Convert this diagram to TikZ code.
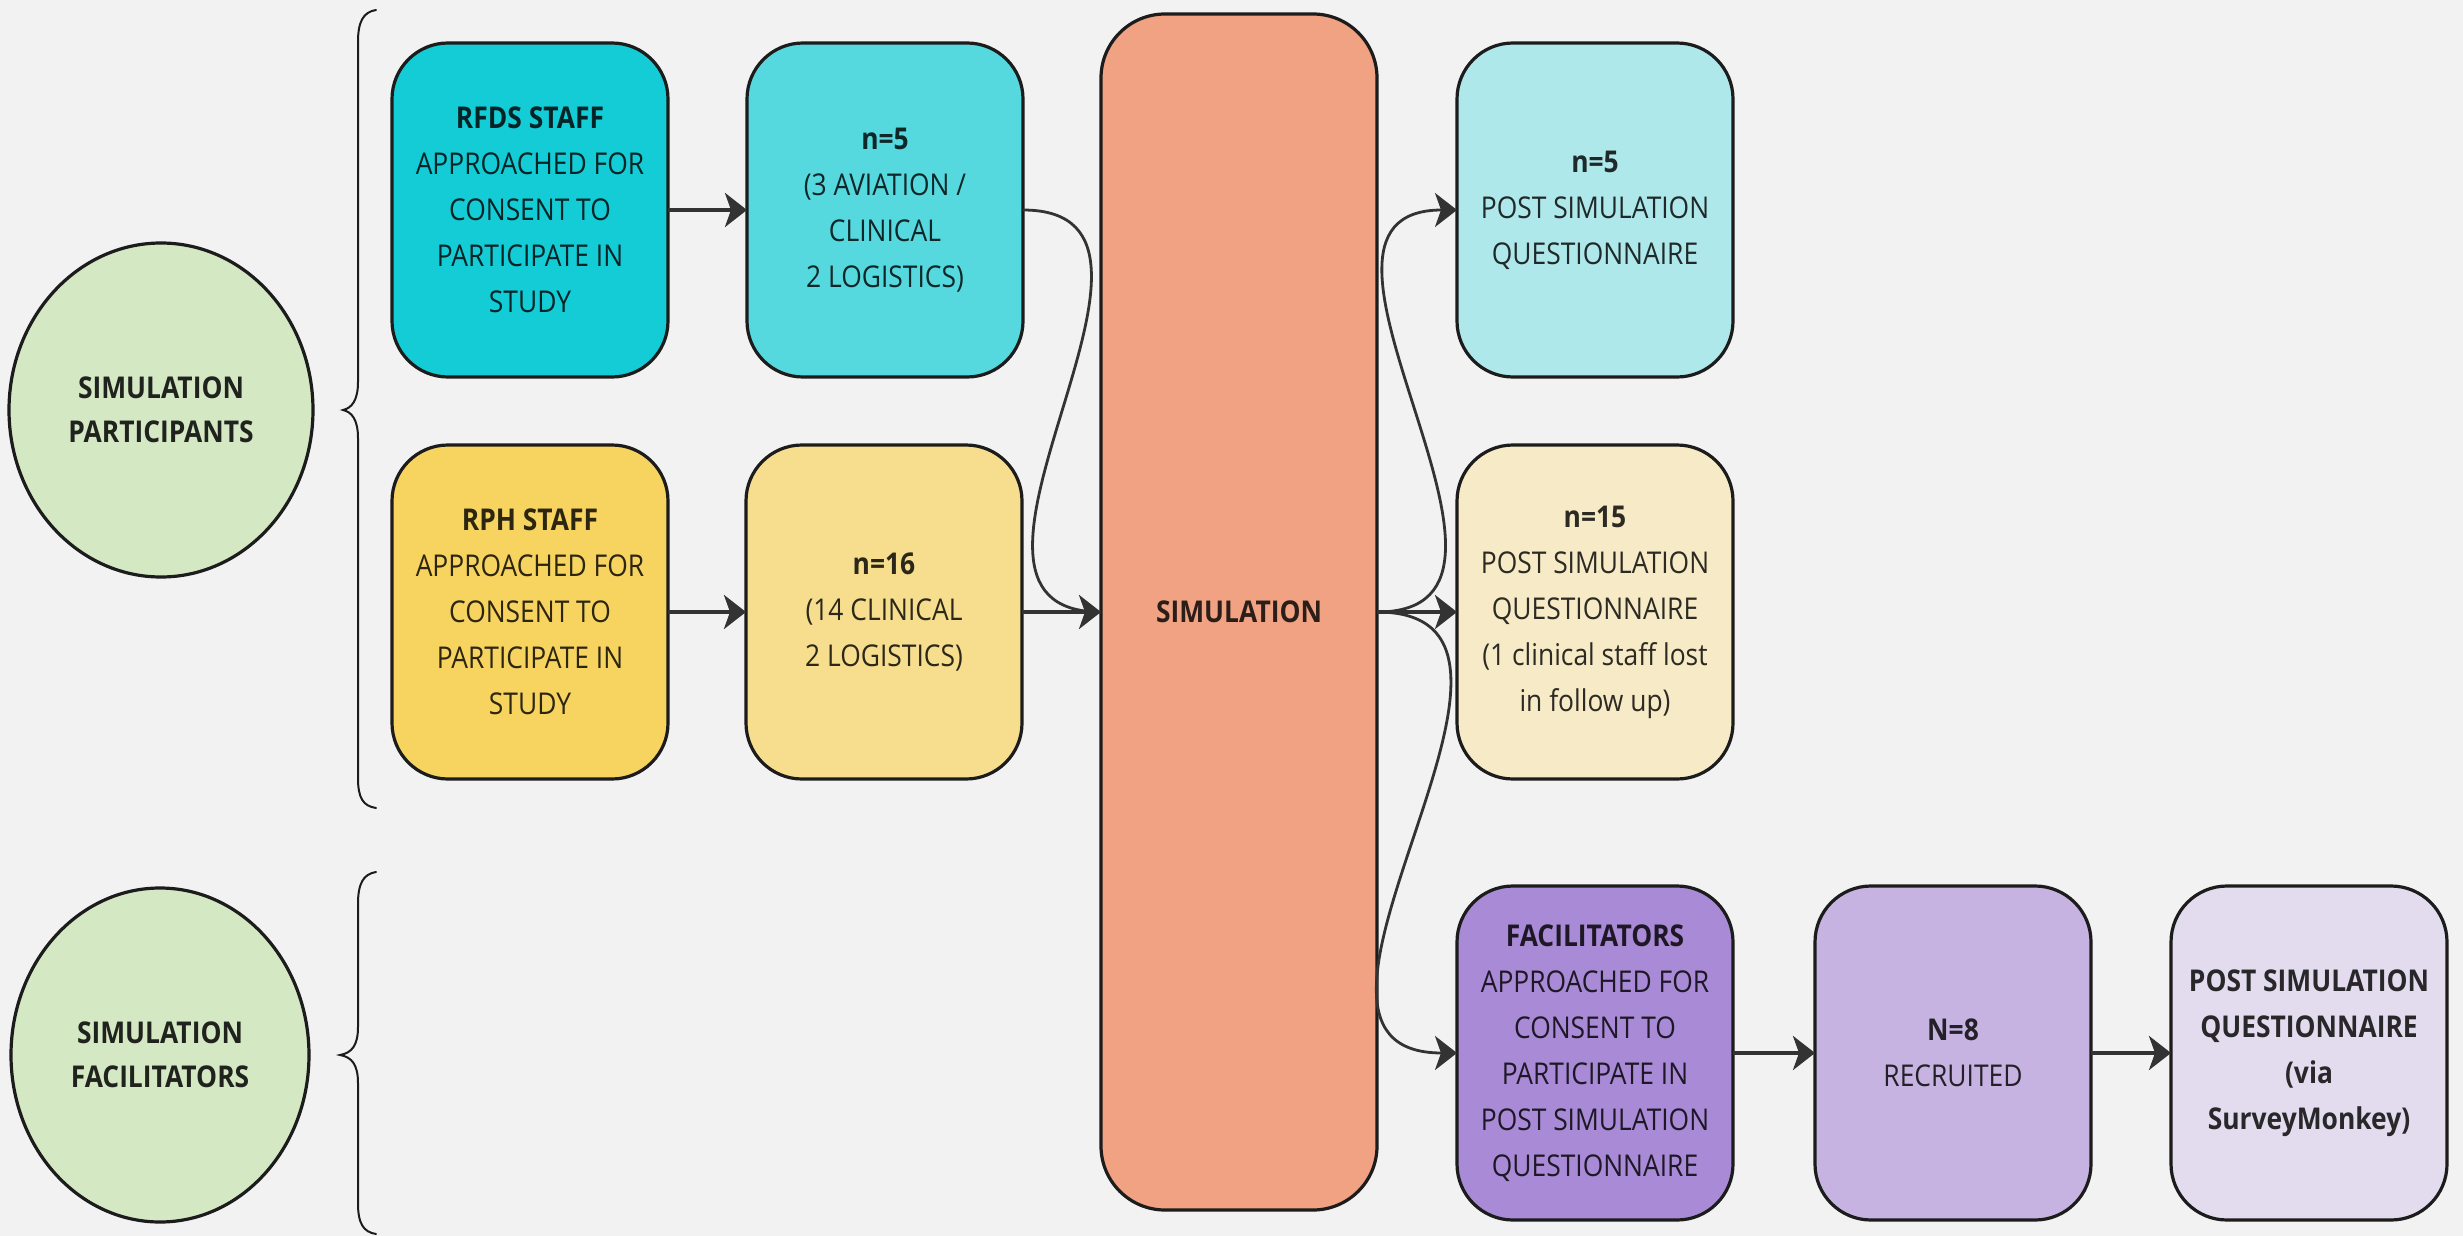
\documentclass[tikz,border=0pt]{standalone}
\usepackage{fontspec}
\setmainfont{Open Sans}[FakeStretch=0.88]
\usetikzlibrary{arrows.meta,shapes.geometric}
\definecolor{bg}{HTML}{F2F2F2}
\definecolor{bordercol}{HTML}{1C1C1C}
\definecolor{arrcol}{HTML}{333333}
\definecolor{rfds}{HTML}{14CCD6}
\definecolor{nfivea}{HTML}{55D9DF}
\definecolor{nfiveb}{HTML}{AEE8EA}
\definecolor{rph}{HTML}{F7D35F}
\definecolor{nsixteen}{HTML}{F6DE8E}
\definecolor{nfifteen}{HTML}{F6EBC6}
\definecolor{simcol}{HTML}{F0A283}
\definecolor{faccol}{HTML}{A98AD6}
\definecolor{neight}{HTML}{C6B3E2}
\definecolor{lastcol}{HTML}{E3DCEE}
\definecolor{ellcol}{HTML}{D4E8C4}
\begin{document}
\begin{tikzpicture}[x=0.5pt,y=-0.5pt,
  box/.style={draw=bordercol, line width=1.6pt, rounded corners=28pt,
    minimum width=138pt, minimum height=167pt, align=center,
    inner sep=0pt, outer sep=0pt, text=black, text opacity=0.82,
    font=\fontsize{15}{23}\selectfont},
  ell/.style={ellipse, draw=bordercol, line width=1.6pt, fill=ellcol,
    align=center, inner sep=0pt, outer sep=0pt, text=black, text opacity=0.85,
    font=\fontsize{15}{22}\selectfont\bfseries},
  arr/.style={draw=arrcol, line width=2.2pt, -{Stealth[length=11pt,width=17pt,inset=3pt]}},
  curvearr/.style={draw=arrcol, line width=1.4pt, -{Stealth[length=11pt,width=17pt,inset=3pt]}},
  curveline/.style={draw=arrcol, line width=1.4pt},
  bracestyle/.style={draw=bordercol, line width=1pt, line cap=round}]
\fill[bg] (0,0) rectangle (2463,1236);
\useasboundingbox (0,0) rectangle (2463,1236);

% ellipses
\node[ell, minimum width=152pt, minimum height=167pt] (ep) at (161,410) {SIMULATION\\PARTICIPANTS};
\node[ell, minimum width=149pt, minimum height=167pt] (ef) at (160,1055) {SIMULATION\\FACILITATORS};

% braces
\draw[bracestyle] (376,10) .. controls (363,12) and (358,22) .. (358,42) -- (358,382) .. controls (358,400) and (352,408) .. (343,410) .. controls (352,412) and (358,420) .. (358,438) -- (358,778) .. controls (358,798) and (363,806) .. (376,808);
\draw[bracestyle] (376,872) .. controls (363,874) and (358,884) .. (358,904) -- (358,1027) .. controls (358,1045) and (352,1053) .. (340,1055) .. controls (352,1057) and (358,1065) .. (358,1083) -- (358,1203) .. controls (358,1223) and (363,1232) .. (376,1234);

% boxes
\node[box, fill=rfds] (rfds) at (530,210) {{\bfseries RFDS STAFF}\\APPROACHED FOR\\CONSENT TO\\PARTICIPATE IN\\STUDY};
\node[box, fill=nfivea] (n5a) at (885,210) {{\bfseries n=5}\\(3 AVIATION /\\CLINICAL\\2 LOGISTICS)};
\node[box, fill=rph] (rph) at (530,612) {{\bfseries RPH STAFF}\\APPROACHED FOR\\CONSENT TO\\PARTICIPATE IN\\STUDY};
\node[box, fill=nsixteen] (n16) at (884,612) {{\bfseries n=16}\\(14 CLINICAL\\2 LOGISTICS)};
\node[box, fill=simcol, rounded corners=32pt, minimum height=598pt] (sim) at (1239,612) {\bfseries SIMULATION};
\node[box, fill=nfiveb] (n5b) at (1595,210) {{\bfseries n=5}\\POST SIMULATION\\QUESTIONNAIRE};
\node[box, fill=nfifteen] (n15) at (1595,612) {{\bfseries n=15}\\POST SIMULATION\\QUESTIONNAIRE\\(1 clinical staff lost\\in follow up)};
\node[box, fill=faccol] (fac) at (1595,1053) {{\bfseries FACILITATORS}\\APPROACHED FOR\\CONSENT TO\\PARTICIPATE IN\\POST SIMULATION\\QUESTIONNAIRE};
\node[box, fill=neight] (n8) at (1953,1053) {{\bfseries N=8}\\RECRUITED};
\node[box, fill=lastcol] (last) at (2309,1053) {\bfseries POST SIMULATION\\\bfseries QUESTIONNAIRE\\\bfseries (via\\\bfseries SurveyMonkey)};

% connectors
\draw[curveline] (n5a.east) to[out=0,in=180,looseness=1.25] (sim.west);
\draw[arr] (rfds) -- (n5a);
\draw[arr] (rph) -- (n16);
\draw[arr] (n16) -- (sim);
\draw[arr] (sim) -- (n15);
\draw[curvearr] (sim.east) to[out=0,in=180,looseness=1.25] (n5b.west);
\draw[curvearr] (sim.east) to[out=0,in=180,looseness=1.25] (fac.west);
\draw[arr] (fac) -- (n8);
\draw[arr] (n8) -- (last);
\end{tikzpicture}
\end{document}
